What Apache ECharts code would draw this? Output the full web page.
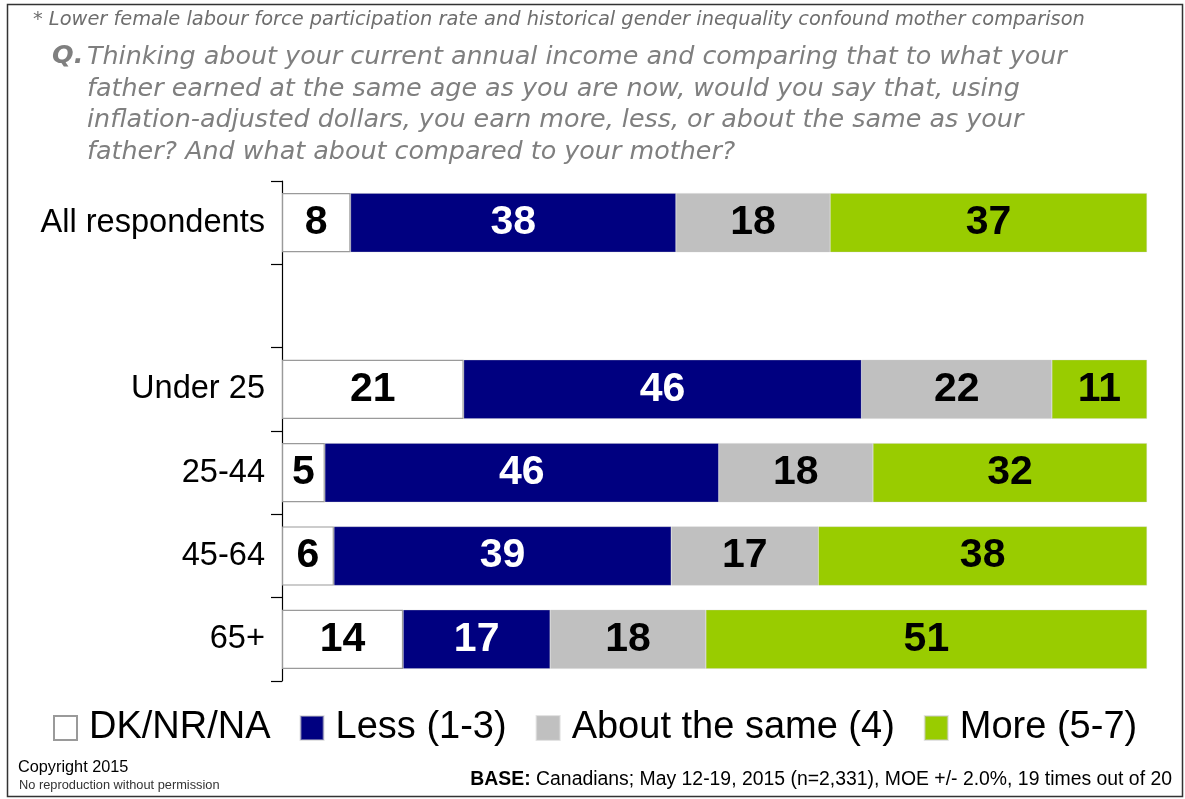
<!DOCTYPE html>
<html>
<head>
<meta charset="utf-8">
<script src="https://cdn.jsdelivr.net/npm/echarts@6/dist/echarts.min.js"></script>
<style>
  html, body { margin: 0; padding: 0; background: #fff; }
  #chart { width: 1185px; height: 799px; }
</style>
</head>
<body>
<div id="chart"></div>
<script>
// Groups (the blank slot separates the overall result from the age breakdown)
const categories = ['All respondents', '', 'Under 25', '25-44', '45-64', '65+'];

// Percent of respondents per answer
const dkValues   = [8,  null, 21,  5,  6, 14];
const lessValues = [38, null, 46, 46, 39, 17];
const sameValues = [18, null, 22, 18, 17, 18];
const moreValues = [37, null, 11, 32, 38, 51];

const seriesNames = ['DK/NR/NA', 'Less (1-3)', 'About the same (4)', 'More (5-7)'];
const seriesColors = ['#ffffff', '#000080', '#c0c0c0', '#99cc00'];
const labelColors = ['#000000', '#ffffff', '#000000', '#000000'];

const footnote = '* Lower female labour force participation rate and historical gender inequality confound mother comparison';
const questionLines = [
  'Thinking about your current annual income and comparing that to what your',
  'father earned at the same age as you are now, would you say that, using',
  'inflation-adjusted dollars, you earn more, less, or about the same as your',
  'father? And what about compared to your mother?'
];

const allSeries = [dkValues, lessValues, sameValues, moreValues];

// Each row is drawn as a 100% stacked bar; labels keep the reported figures
const rowTotals = categories.map((_, i) =>
  allSeries.reduce((s, arr) => s + (arr[i] == null ? 0 : arr[i]), 0));

const series = allSeries.map((arr, k) => ({
  name: seriesNames[k],
  type: 'bar',
  stack: 'total',
  barCategoryGap: '29%',
  data: arr.map((v, i) => v == null ? null : { value: v / rowTotals[i] * 100, raw: v }),
  itemStyle: {
    color: seriesColors[k],
    borderColor: k === 0 ? '#9a9a9a' : 'rgba(200,200,200,0.5)',
    borderWidth: k === 0 ? 1.2 : 0.6
  },
  label: {
    show: true,
    position: 'inside',
    fontFamily: 'Liberation Sans, Arial, sans-serif',
    fontWeight: 'bold',
    fontSize: 41,
    color: labelColors[k],
    formatter: p => p.data && p.data.raw != null ? String(p.data.raw) : ''
  },
  emphasis: { disabled: true }
}));

const chart = echarts.init(document.getElementById('chart'), null, { renderer: 'canvas' });

chart.setOption({
  backgroundColor: '#ffffff',
  animation: false,
  grid: { left: 282, right: 38, top: 181, bottom: 118, containLabel: false },
  xAxis: {
    type: 'value',
    min: 0,
    max: 100,
    show: false
  },
  yAxis: {
    type: 'category',
    data: categories,
    inverse: true,
    axisLine: { show: true, lineStyle: { color: '#000', width: 1.2 } },
    axisTick: { show: true, length: 11, lineStyle: { color: '#000', width: 1.2 } },
    axisLabel: {
      margin: 17,
      fontFamily: 'Liberation Sans, Arial, sans-serif',
      fontSize: 32.6,
      color: '#000'
    },
    splitLine: { show: false }
  },
  legend: {
    data: seriesNames,
    left: 48,
    top: 704,
    icon: 'rect',
    itemWidth: 23,
    itemHeight: 24,
    itemGap: 29,
    selectedMode: false,
    textStyle: {
      fontFamily: 'Liberation Sans, Arial, sans-serif',
      fontSize: 38,
      color: '#000',
      padding: [0, 0, 0, 7]
    }
  },
  graphic: [
    {
      type: 'rect',
      shape: { x: 7.5, y: 4.5, width: 1175, height: 792 },
      style: { fill: 'none', stroke: '#333', lineWidth: 1.5 },
      silent: true
    },
    {
      type: 'text',
      left: 33,
      top: 10,
      style: {
        text: footnote,
        font: 'italic 19.4px "DejaVu Sans", sans-serif',
        fill: '#6e6e6e'
      }
    },
    {
      type: 'text',
      left: 52,
      top: 43,
      style: {
        text: 'Q.',
        font: 'italic bold 25.5px "DejaVu Sans", sans-serif',
        fill: '#7f7f7f'
      }
    },
    {
      type: 'text',
      left: 87,
      top: 42,
      style: {
        text: questionLines.join('\n'),
        font: 'italic 25.4px "DejaVu Sans", sans-serif',
        lineHeight: 31.5,
        fill: '#7f7f7f'
      }
    },
    {
      type: 'text',
      left: 18,
      top: 760,
      style: {
        text: 'Copyright 2015',
        font: '16.3px "Liberation Sans", Arial, sans-serif',
        fill: '#000'
      }
    },
    {
      type: 'text',
      left: 19,
      top: 779,
      style: {
        text: 'No reproduction without permission',
        font: '12.8px "Liberation Sans", Arial, sans-serif',
        fill: '#333'
      }
    },
    {
      type: 'text',
      right: 13,
      top: 770,
      style: {
        text: '{b|BASE:} Canadians; May 12-19, 2015 (n=2,331), MOE +/- 2.0%, 19 times out of 20',
        font: '19.4px "Liberation Sans", Arial, sans-serif',
        fill: '#000',
        rich: {
          b: { fontWeight: 'bold', fontSize: 19.4, fontFamily: 'Liberation Sans, Arial, sans-serif' }
        }
      }
    }
  ],
  series: series
});
</script>
</body>
</html>
